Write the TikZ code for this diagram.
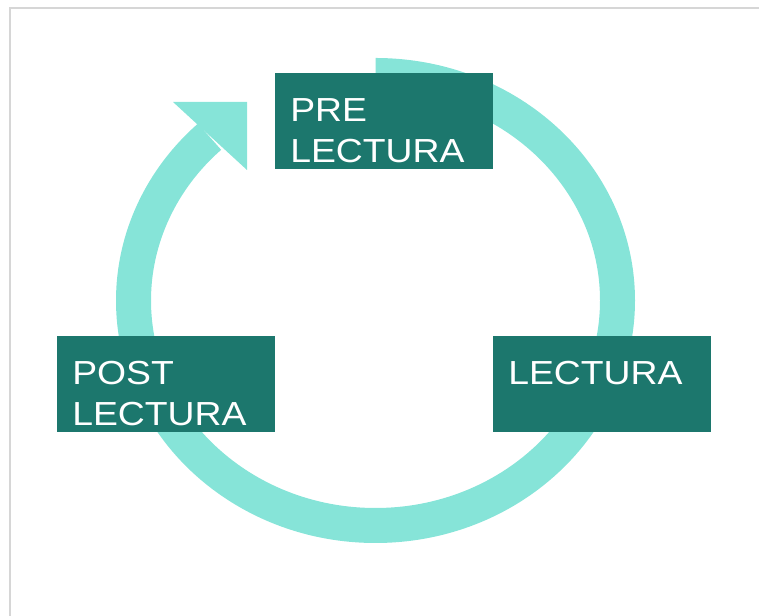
\documentclass[tikz,border=0pt]{standalone}
\usepackage{fontspec}
\setmainfont{Liberation Sans}[FakeStretch=1.12]
\usetikzlibrary{positioning}

\definecolor{boxteal}{HTML}{1C776D}
\definecolor{ringmint}{HTML}{86E4D8}
\definecolor{framegray}{HTML}{D6D6D6}

\begin{document}
\begin{tikzpicture}[
  x=0.75pt, y=0.75pt,
  every node/.style={align=left, font=\fontsize{25pt}{30.75pt}\selectfont},
  stage/.style={fill=boxteal, text=white, anchor=north west,
    inner xsep=11.25pt, inner ysep=0pt, text width=141pt,
    text height=36.4pt, text depth=35.6pt},
  ring/.style={draw=ringmint, line width=26.25pt}
]
\useasboundingbox (0,0) rectangle (759,616);

% Frame
\draw[framegray, line width=1.1pt] (10,0) -- (10,608) -- (759,608);

% Cycle
\coordinate (top) at (375.5,540.5);
\draw[ring] (top) arc[start angle=90, end angle=-226.7, x radius=242, y radius=225];
\coordinate (headl) at (173,514);
\coordinate (headc) at (247,514);
\coordinate (headr) at (247,446);
\fill[ringmint] (headl) -- (headc) -- (headr) -- cycle;

% Nodes
\node[stage] (pre) at (275,543) {PRE\\LECTURA};
\node[stage] (lect) at (493,280) {LECTURA};
\node[stage] (post) at (57,280) {POST\\LECTURA};

\end{tikzpicture}
\end{document}
